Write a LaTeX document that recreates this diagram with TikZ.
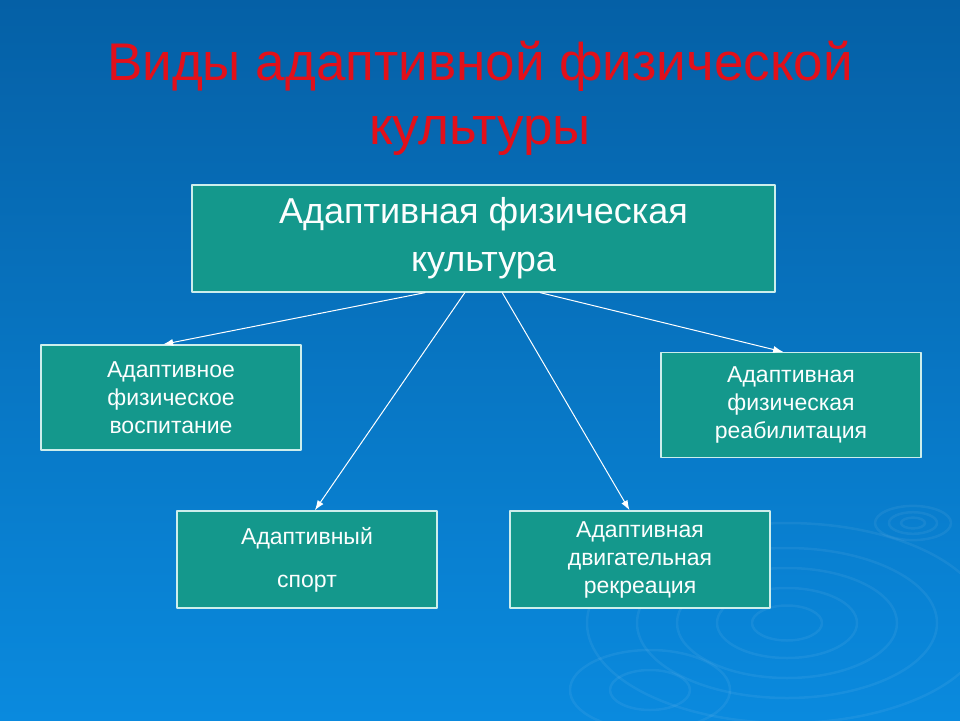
\documentclass[tikz,border=0pt]{standalone}
\usepackage{fontspec}
\setmainfont{Liberation Sans}
\usetikzlibrary{arrows.meta,calc}

\definecolor{bgtop}{RGB}{5,96,166}
\definecolor{bgbottom}{RGB}{10,138,222}
\definecolor{boxfill}{RGB}{20,152,140}
\definecolor{boxline}{RGB}{205,238,236}
\definecolor{titlered}{RGB}{226,16,26}

\begin{document}
\begin{tikzpicture}[x=1pt, y=1pt, line cap=round, line join=round]

% --- Styles ---
\tikzset{
    box/.style={
        draw=boxline,
        fill=boxfill,
        line width=1.3pt,
        minimum width=260pt,
        minimum height=105pt,
        inner sep=0pt,
        text=white!94!boxline,
        align=center,
        font=\fontsize{23}{28}\selectfont
    },
    mainbox/.style={
        box,
        minimum width=583pt,
        minimum height=107pt,
        font=\fontsize{36}{48}\selectfont
    },
    link/.style={
        -{Latex[length=10pt, width=7pt]},
        draw=white,
        line width=1pt
    },
    ripple/.style={
        draw=white,
        draw opacity=0.06,
        line width=2.5pt
    }
}

% --- Background ---
\useasboundingbox (0,0) rectangle (960,-720);
\shade[top color=bgtop, bottom color=bgbottom] (0,0) rectangle (960,-720);

% --- Ripples ---
\foreach \r in {35,70,110,150,200}
    \draw[ripple] (787,-623) ellipse ({\r} and {0.5*\r});
\foreach \r in {12,24,38}
    \draw[ripple] (913,-523) ellipse ({\r} and {0.45*\r});
\foreach \r in {40,80}
    \draw[ripple] (650,-690) ellipse ({\r} and {0.5*\r});

% --- Title ---
\node[text=titlered, font=\fontsize{53}{64}\selectfont, align=center]
    (title) at (480,-98) {Виды адаптивной физической\\культуры};

% --- Boxes ---
\node[mainbox] (afk) at (483.5,-238.5) {Адаптивная физическая\\культура};
\node[box] (vosp) at (171,-397.5) {Адаптивное\\физическое\\воспитание};
\node[box] (reab) at (791,-405) {Адаптивная\\физическая\\реабилитация};
\node[box, minimum height=97pt] (sport) at (307,-559.5)
    {Адаптивный\\[15pt]спорт};
\node[box, minimum height=97pt] (rekr) at (640,-559.5)
    {Адаптивная\\двигательная\\рекреация};

% --- Arrows ---
\draw[link] ($(afk.south west)!0.40!(afk.south east)$)
    -- ($(vosp.north west)!0.47!(vosp.north east)$);
\draw[link] ($(afk.south west)!0.468!(afk.south east)$)
    -- ($(sport.north west)!0.53!(sport.north east)$);
\draw[link] ($(afk.south west)!0.532!(afk.south east)$)
    -- ($(rekr.north west)!0.46!(rekr.north east)$);
\draw[link] ($(afk.south west)!0.597!(afk.south east)$)
    -- ($(reab.north west)!0.47!(reab.north east)$);

\end{tikzpicture}
\end{document}
